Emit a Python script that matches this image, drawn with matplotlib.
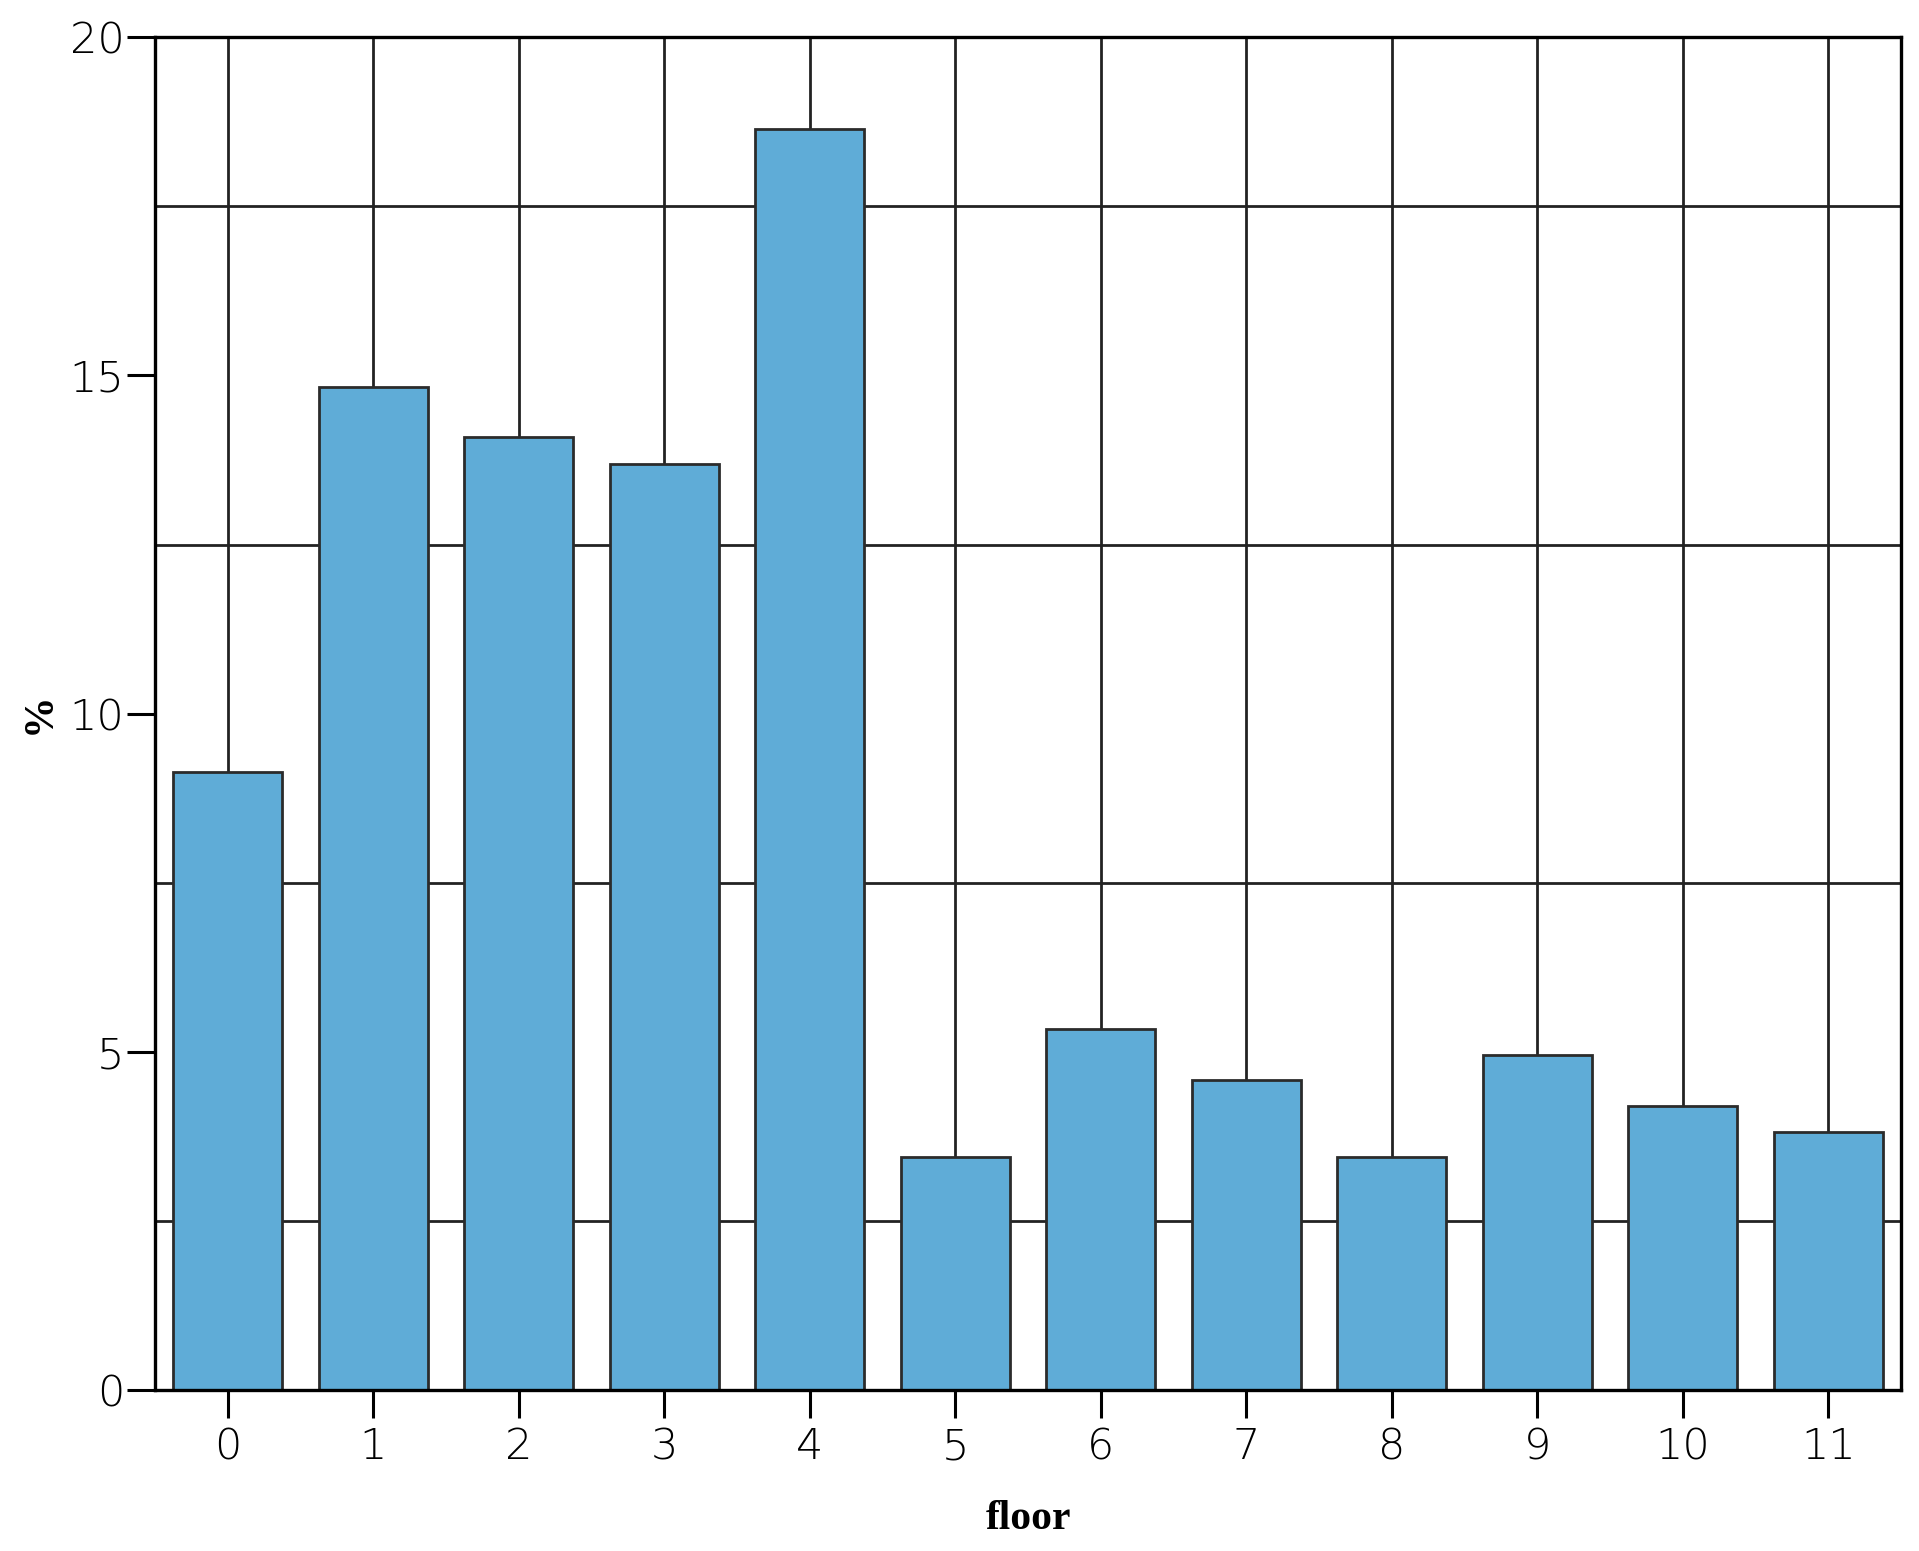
import matplotlib
matplotlib.use("Agg")
import matplotlib.pyplot as plt
import numpy as np

floors = [str(i) for i in range(12)]
percent = [9.13, 14.83, 14.09, 13.69, 18.64, 3.44, 5.33, 4.58, 3.44, 4.95, 4.20, 3.82]
y_ticks = [0, 5, 10, 15, 20]
grid_y = [2.5, 7.5, 12.5, 17.5]

fig = plt.figure(figsize=(19.19, 15.51), dpi=100)
ax = fig.add_axes([0.0808, 0.1038, 0.9098, 0.8722])

x = np.arange(len(floors))
for xi in x:
    ax.axvline(xi, color="#222222", lw=2, zorder=1)
for gy in grid_y:
    ax.axhline(gy, color="#222222", lw=2, zorder=1)

ax.bar(x, percent, width=0.75, color="#5FACD7", edgecolor="#2b2b2b", linewidth=2, zorder=2)

ax.set_xlim(-0.5, 11.5)
ax.set_ylim(0, 20)
ax.set_xticks(x)
ax.set_xticklabels(floors, fontsize=31, family="DejaVu Sans", fontweight="light")
ax.set_yticks(y_ticks)
ax.set_yticklabels([str(v) for v in y_ticks], fontsize=31, family="DejaVu Sans", fontweight="light")
ax.tick_params(length=20, width=2.2, direction="out")
ax.tick_params(axis="y", pad=2)
ax.tick_params(axis="x", pad=6)
for s in ax.spines.values():
    s.set_linewidth(2.4)
    s.set_color("black")

ax.set_xlabel("floor", fontsize=30, family="Liberation Serif", fontweight="bold", labelpad=24)
ax.set_ylabel("%", fontsize=30, family="Liberation Serif", fontweight="bold", labelpad=8)

fig.savefig("out.png", dpi=100)
